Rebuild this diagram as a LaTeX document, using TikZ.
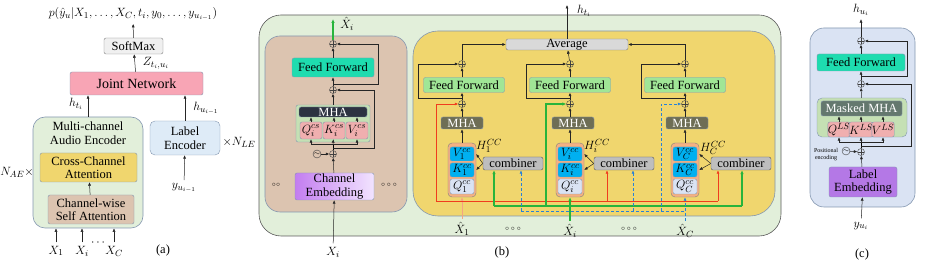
\documentclass[tikz,border=0pt]{standalone}
\usepackage{fontspec}
\setmainfont{Liberation Serif}
\usetikzlibrary{positioning,arrows.meta,calc}
\definecolor{EdgeGray}{RGB}{132,151,176}
\definecolor{DarkEdge}{RGB}{90,90,90}
\definecolor{EncGreen}{RGB}{226,239,218}
\definecolor{TanBand}{RGB}{220,196,176}
\definecolor{CrossYellow}{RGB}{240,214,110}
\definecolor{LabelBlue}{RGB}{222,235,247}
\definecolor{PanelBlue}{RGB}{218,227,243}
\definecolor{JointPink}{RGB}{248,165,181}
\definecolor{SoftGray}{RGB}{240,240,240}
\definecolor{TealFF}{RGB}{30,220,175}
\definecolor{LightFF}{RGB}{160,230,150}
\definecolor{MhaDark}{RGB}{45,50,65}
\definecolor{MhaOlive}{RGB}{110,110,85}
\definecolor{MaskedGray}{RGB}{100,120,110}
\definecolor{GroupGreen}{RGB}{197,224,180}
\definecolor{QkvPink}{RGB}{240,175,175}
\definecolor{StackOrange}{RGB}{244,177,131}
\definecolor{VkBlue}{RGB}{0,176,240}
\definecolor{QLight}{RGB}{218,227,243}
\definecolor{CombGray}{RGB}{190,190,190}
\definecolor{AvgGray}{RGB}{217,217,217}
\definecolor{EmbPurple}{RGB}{195,125,240}
\definecolor{EmbLight}{RGB}{242,228,255}
\definecolor{LabPurple}{RGB}{180,120,230}
\definecolor{RedLine}{RGB}{240,60,30}
\definecolor{SalmonLine}{RGB}{244,164,130}
\definecolor{GreenLine}{RGB}{40,180,60}
\definecolor{BlueLine}{RGB}{40,130,215}
\tikzset{
  flow/.style={-{Latex[length=3.5pt,width=3pt]},line width=0.5pt,draw=black!85},
  redline/.style={line width=0.6pt,draw=RedLine},
  redflow/.style={redline,-{Latex[length=3.5pt,width=3pt]}},
  salmonflow/.style={line width=1pt,draw=SalmonLine,-{Latex[length=3.5pt,width=3pt]}},
  greenline/.style={line width=1.1pt,draw=GreenLine},
  greenflow/.style={greenline,-{Latex[length=4pt,width=3.5pt]}},
  blueline/.style={line width=0.7pt,draw=BlueLine,dash pattern=on 3pt off 2pt},
  blueflow/.style={blueline,-{Latex[length=3.5pt,width=3pt]}},
  panel/.style={draw=EdgeGray,line width=0.6pt,rounded corners=14pt},
  blk/.style={draw=EdgeGray,rounded corners=2pt,inner sep=0pt,align=center},
  ffbox/.style={blk,fill=LightFF,minimum width=81,minimum height=15},
  tealbox/.style={blk,fill=TealFF},
  mhabox/.style={blk,fill=MhaOlive,text=white,minimum width=42,minimum height=12},
  stackbox/.style={blk,draw=gray,fill=StackOrange,rounded corners=4pt,minimum width=28,minimum height=54},
  vkbox/.style={blk,fill=VkBlue,minimum width=24,minimum height=14},
  qbox/.style={blk,fill=QLight,minimum width=24,minimum height=15},
  combbox/.style={blk,draw=DarkEdge,fill=CombGray,minimum width=60,minimum height=13},
  qkvbox/.style={blk,fill=QkvPink,minimum width=22},
  add/.style={circle,draw=black!75,minimum size=7pt,inner sep=0pt,
    path picture={\draw[black!75] (path picture bounding box.north) -- (path picture bounding box.south)
      (path picture bounding box.west) -- (path picture bounding box.east);}},
  sine/.style={circle,draw=black!75,minimum size=8pt,inner sep=0pt,font=\fontsize{7}{7}\selectfont}
}
\begin{document}
\begin{tikzpicture}[x=1pt,y=-1pt,font=\fontsize{12.5}{13.5}\selectfont]
  \useasboundingbox (0,0) rectangle (926,261);

  \node (prob) at (133,14) {$p(\hat{y}_u|X_1,\ldots,X_C,t_i,y_0,\ldots,y_{u_{i-1}})$};
  \node[blk,draw=gray,fill=SoftGray,minimum width=59,minimum height=16] (soft) at (133.5,46) {SoftMax};
  \node (zlab) at (156,63) {$Z_{t_i,u_i}$};
  \node[blk,fill=JointPink,minimum width=133,minimum height=23,font=\fontsize{14}{15}\selectfont] (joint) at (136.5,83.5) {Joint Network};
  \node (htlab) at (76,104) {$h_{t_i}$};
  \node[panel,fill=EncGreen,rounded corners=12pt,minimum width=110,minimum height=111] (enc) at (88,172.5) {};
  \node[align=center] (enctxt) at (88,133) {Multi-channel\\Audio Encoder};
  \node[blk,fill=CrossYellow,minimum width=97,minimum height=29] (cross) at (88.5,167.5) {Cross-Channel\\Attention};
  \node[blk,fill=TanBand,minimum width=86,minimum height=29] (chself) at (91,209.5) {Channel-wise\\Self Attention};
  \node (nae) at (17,172) {$N_{AE}\times$};
  \node[blk,fill=LabelBlue,rounded corners=5pt,minimum width=70,minimum height=34] (lenc) at (185,138) {Label\\Encoder};
  \node (nle) at (239,142) {$\times N_{LE}$};
  \node (hulab) at (206,108) {$h_{u_{i-1}}$};
  \node (yprev) at (184,188) {$y_{u_{i-1}}$};
  \node (xa1) at (56,251) {$X_1$};
  \node (xai) at (82,251) {$X_i$};
  \node (xadots) at (98,243) {$\cdots$};
  \node (xac) at (114,251) {$X_C$};
  \node (capa) at (163,250) {(a)};
  \draw[flow] (soft) -- (prob);
  \draw[flow] (joint) -- (soft);
  \draw[flow] (enc.north) -- (enc.north |- joint.south);
  \draw[flow] (lenc.north) -- (lenc.north |- joint.south);
  \draw[flow] (chself) -- (cross);
  \draw[flow] (yprev) -- (lenc);
  \draw[flow] (xa1) -- (xa1 |- enc.south);
  \draw[flow] (xai) -- (xai |- enc.south);
  \draw[flow] (xac) -- (xac |- enc.south);

  \node[panel,draw=DarkEdge,fill=EncGreen,rounded corners=22pt,minimum width=522,minimum height=221] (pb) at (520,125.5) {};
  \node[panel,fill=TanBand,rounded corners=15pt,minimum width=142,minimum height=176] (tan) at (336,124) {};
  \node[panel,fill=CrossYellow,rounded corners=25pt,minimum width=362,minimum height=185] (yel) at (594,123.5) {};

  \node[add] (addtcs) at (333,44) {};
  \coordinate (outcs) at (333,19);
  \node (xhcs) at (347,24) {$\hat{X}_i$};
  \node[tealbox,minimum width=82,minimum height=19] (ffcs) at (333,67.5) {Feed Forward};
  \node[add] (addmcs) at (333,90) {};
  \node[blk,fill=GroupGreen,minimum width=74,minimum height=37] (mhagrp) at (333,123.5) {};
  \node[blk,fill=MhaDark,text=white,minimum width=68,minimum height=10] (mhacs) at (333,112) {MHA};
  \node[qkvbox,minimum height=17] (qcs) at (311,130.5) {$Q_i^{cs}$};
  \node[qkvbox,minimum height=17] (kcs) at (334,130.5) {$K_i^{cs}$};
  \node[qkvbox,minimum height=17] (vcs) at (357,130.5) {$V_i^{cs}$};
  \coordinate (buscs) at (333,144);
  \node[add] (addpe) at (333,154) {};
  \node[sine] (sinecs) at (317,154) {$\sim$};
  \node[blk,left color=EmbPurple,right color=EmbLight,minimum width=79,minimum height=27] (chemb) at (334.5,186.5) {Channel\\Embedding};
  \node (xi) at (333,252) {$X_i$};
  \node[font=\fontsize{7}{7}\selectfont] (dl) at (276,185) {$\circ\circ$};
  \node[font=\fontsize{7}{7}\selectfont] (dr) at (389,185) {$\circ\circ\circ$};
  \draw[greenflow] (addtcs) -- (outcs);
  \draw[flow] (ffcs) -- (addtcs);
  \draw[flow] (addmcs) -- (ffcs);
  \coordinate (bcs1) at (333,84);
  \draw[flow] (bcs1) -- ++(45,0) |- (addtcs);
  \draw[flow] (mhagrp) -- (addmcs);
  \draw[flow] (qcs) -- (qcs |- mhacs.south);
  \draw[flow] (kcs) -- (kcs |- mhacs.south);
  \draw[flow] (vcs) -- (vcs |- mhacs.south);
  \draw (addpe) -- (buscs);
  \draw[flow] (buscs) -| (qcs);
  \draw[flow] (buscs) -- (kcs);
  \draw[flow] (buscs) -| (vcs);
  \coordinate (bcs2) at (333,148);
  \draw[flow] (bcs2) -- ++(41,0) |- (addmcs);
  \draw[flow] (sinecs) -- (addpe);
  \draw[flow] (chemb) -- (addpe);
  \draw[flow] (xi) -- (chemb);

  \node[blk,draw=gray,fill=AvgGray,minimum width=122,minimum height=11] (avg) at (567,44.5) {Average};
  \coordinate (htop) at (567,5);
  \node (ht) at (584,11) {$h_{t_i}$};
  \draw[flow] (avg) -- (htop);

  \node[add] (at1) at (462,64) {};
  \node[ffbox] (ff1) at (464,85) {Feed Forward};
  \node[add] (am1) at (462,104) {};
  \node[mhabox] (mha1) at (462,123) {MHA};
  \node[stackbox] (st1) at (462,170) {};
  \node[vkbox] (v1) at (462,154) {$V_1^{cc}$};
  \node[vkbox] (k1) at (462,170) {$K_1^{cc}$};
  \node[qbox] (q1) at (462,186.5) {$Q_1^{cc}$};
  \node[combbox] (cb1) at (513,163.5) {combiner};
  \node (hh1) at (489,146) {$H_1^{CC}$};
  \draw[flow] (st1) -- (mha1);
  \draw[flow] (mha1) -- (am1);
  \draw[flow] (am1) -- (am1 |- ff1.south);
  \draw[flow] (at1 |- ff1.north) -- (at1);
  \coordinate (rb1) at (462,98);
  \draw[flow] (rb1) -- ++(-44,0) |- (at1);
  \draw[flow] (at1) |- (avg);
  \draw[flow] (cb1.west) -- (v1.east -| st1.east);
  \draw[flow] (cb1.west) -- (k1.east -| st1.east);

  \node[add] (at2) at (570,64) {};
  \node[ffbox] (ff2) at (570,85) {Feed Forward};
  \node[add] (am2) at (570,104) {};
  \node[mhabox] (mha2) at (573,123) {MHA};
  \node[stackbox] (st2) at (570,170) {};
  \node[vkbox] (v2) at (570,154) {$V_i^{cc}$};
  \node[vkbox] (k2) at (570,170) {$K_i^{cc}$};
  \node[qbox] (q2) at (570,186.5) {$Q_i^{cc}$};
  \node[combbox] (cb2) at (624,163.5) {combiner};
  \node (hh2) at (597,146) {$H_i^{CC}$};
  \draw[flow] (st2) -- (st2 |- mha2.south);
  \draw[flow] (am2 |- mha2.north) -- (am2);
  \draw[flow] (am2) -- (ff2);
  \draw[flow] (ff2) -- (at2);
  \coordinate (rb2) at (570,98);
  \draw[flow] (rb2) -- ++(-44,0) |- (at2);
  \draw[flow] (at2) -- (avg);
  \draw[flow] (cb2.west) -- (v2.east -| st2.east);
  \draw[flow] (cb2.west) -- (k2.east -| st2.east);

  \node[add] (at3) at (685,64) {};
  \node[ffbox] (ff3) at (685,85) {Feed Forward};
  \node[add] (am3) at (685,104) {};
  \node[mhabox] (mha3) at (687,123) {MHA};
  \node[stackbox] (st3) at (685,170) {};
  \node[vkbox] (v3) at (685,154) {$V_C^{cc}$};
  \node[vkbox] (k3) at (685,170) {$K_C^{cc}$};
  \node[qbox] (q3) at (685,186.5) {$Q_C^{cc}$};
  \node[combbox] (cb3) at (741,163.5) {combiner};
  \node (hh3) at (713,148) {$H_C^{CC}$};
  \draw[flow] (st3) -- (st3 |- mha3.south);
  \draw[flow] (am3 |- mha3.north) -- (am3);
  \draw[flow] (am3) -- (ff3);
  \draw[flow] (ff3) -- (at3);
  \coordinate (rb3) at (685,98);
  \draw[flow] (rb3) -- ++(-44,0) |- (at3);
  \draw[flow] (at3) |- (avg);
  \draw[flow] (cb3.west) -- (v3.east -| st3.east);
  \draw[flow] (cb3.west) -- (k3.east -| st3.east);

  \node (xh1) at (462,229) {$\hat{X}_1$};
  \node[font=\fontsize{7}{7}\selectfont] (bd1) at (513,229) {$\circ\circ\circ$};
  \node (xh2) at (570,231) {$\hat{X}_i$};
  \node[font=\fontsize{7}{7}\selectfont] (bd2) at (629,229) {$\circ\circ\circ$};
  \node (xh3) at (685,231) {$\hat{X}_C$};
  \node (capb) at (502,252) {(b)};

  \draw[salmonflow] (xh1) -- (st1);
  \coordinate (rl) at (436,201);
  \coordinate (r2) at (607,201);
  \coordinate (r3) at (718,201);
  \draw[redline] (rl) -- (r3);
  \draw[redflow] (rl) |- (am1);
  \draw[redflow] (r2) -- (r2 |- cb2.south);
  \draw[redflow] (r3) -- (r3 |- cb3.south);

  \draw[greenflow] (xh2) -- (st2);
  \coordinate (g1) at (494,206);
  \coordinate (gm) at (546,206);
  \coordinate (g3) at (742,206);
  \draw[greenline] (g1) -- (g3);
  \draw[greenflow] (g1) -- (g1 |- cb1.south);
  \draw[greenflow] (g3) -- (g3 |- cb3.south);
  \draw[greenflow] (gm) |- (am2);

  \draw[blueflow] (xh3) -- (st3);
  \coordinate (bl1) at (521,211);
  \coordinate (bl2) at (633,211);
  \coordinate (blm) at (661,211);
  \coordinate (bl3) at (685,211);
  \draw[blueline] (bl1) -- (bl3);
  \draw[blueflow] (bl1) -- (bl1 |- cb1.south);
  \draw[blueflow] (bl2) -- (bl2 |- cb2.south);
  \draw[blueflow] (blm) |- (am3);

  \node[panel,fill=PanelBlue,minimum width=105,minimum height=179] (pc) at (862.5,117.5) {};
  \node (hu) at (861,10) {$h_{u_i}$};
  \node[add] (act) at (861,41) {};
  \node[tealbox,minimum width=88,minimum height=17] (ffc) at (861,62.5) {Feed Forward};
  \node[add] (acm) at (861,84) {};
  \node[blk,fill=GroupGreen,rounded corners=5pt,minimum width=90,minimum height=39] (mmg) at (862,117.5) {};
  \node[blk,fill=MaskedGray,text=white,minimum width=81,minimum height=15] (mmha) at (861.5,108.5) {Masked MHA};
  \node[qkvbox,minimum height=15] (qls) at (839,129.5) {$Q^{LS}$};
  \node[qkvbox,minimum height=15] (kls) at (861,129.5) {$K^{LS}$};
  \node[qkvbox,minimum height=15] (vls) at (883,129.5) {$V^{LS}$};
  \coordinate (busc) at (861,142);
  \node[add] (apc) at (861,152) {};
  \node[sine] (sinec) at (846,151) {$\sim$};
  \node[align=center,inner sep=0pt,font=\fontsize{6}{7}\selectfont] (postxt) at (826,155) {Positional\\encoding};
  \node[blk,fill=LabPurple,minimum width=68,minimum height=30] (lemb) at (863,182) {Label\\Embedding};
  \node (yui) at (861,226) {$y_{u_i}$};
  \node (capc) at (862,254) {(c)};
  \draw[flow] (act) -- (hu);
  \draw[flow] (ffc) -- (act);
  \coordinate (rc1) at (861,76);
  \draw[flow] (rc1) -- ++(46,0) |- (act);
  \draw[flow] (acm) -- (ffc);
  \draw[flow] (mmg) -- (acm);
  \draw[flow] (qls) -- (qls |- mmha.south);
  \draw[flow] (kls) -- (kls |- mmha.south);
  \draw[flow] (vls) -- (vls |- mmha.south);
  \draw (apc) -- (busc);
  \draw[flow] (busc) -| (qls);
  \draw[flow] (busc) -- (kls);
  \draw[flow] (busc) -| (vls);
  \coordinate (rc2) at (861,146);
  \draw[flow] (rc2) -- ++(50,0) |- (acm);
  \draw[flow] (sinec) -- (apc);
  \draw[flow] (lemb) -- (apc);
  \draw[flow] (yui) -- (lemb);
\end{tikzpicture}
\end{document}
